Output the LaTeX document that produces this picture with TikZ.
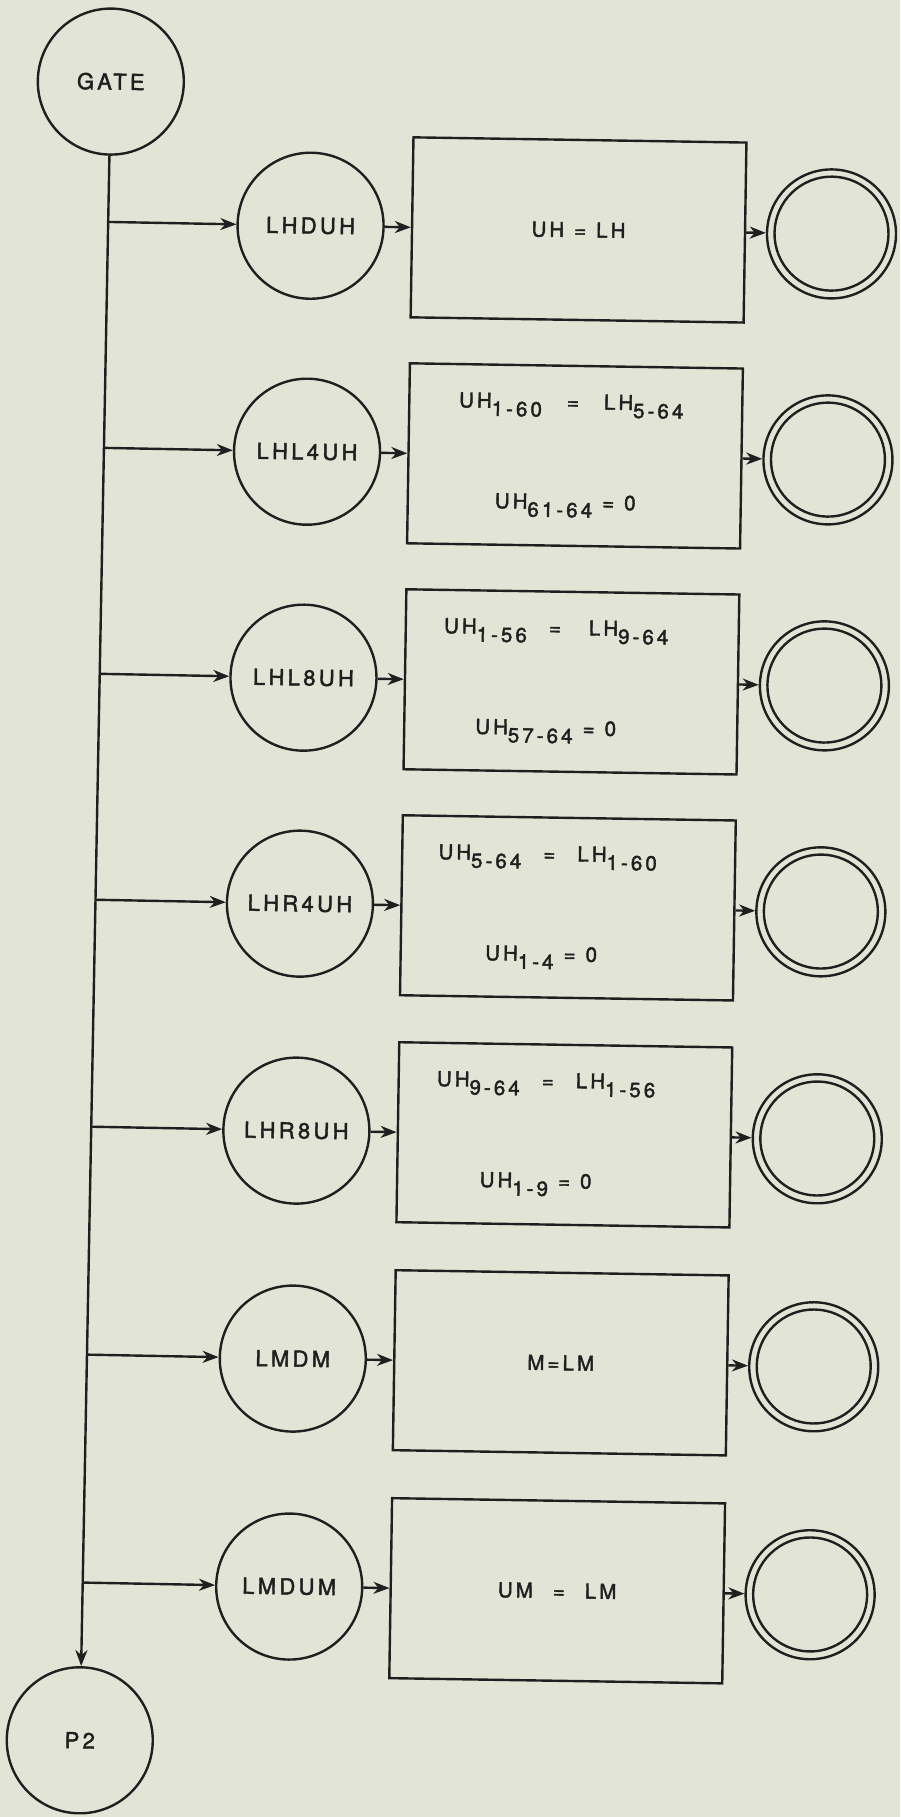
\documentclass[tikz,border=0pt]{standalone}
\usepackage{fontspec}
\setmainfont{TeX Gyre Heros}[LetterSpace=15, FakeBold=2]
\usetikzlibrary{arrows.meta,calc}
\definecolor{papel}{HTML}{E2E5D5}
\definecolor{tinta}{HTML}{1F1F1F}
\newcommand{\ind}[1]{\raisebox{-8pt}{#1}}
\newcommand{\folga}[1]{\makebox[#1]{}}

\begin{document}
\begin{tikzpicture}[x=1pt, y=-1pt, line width=2.4pt, color=tinta,
  estado/.style={circle, draw=tinta, minimum size=146pt, inner sep=0pt, font=\fontsize{22}{26}\selectfont},
  caixa/.style={draw=tinta, minimum width=333pt, minimum height=180pt, inner sep=0pt, align=center, font=\fontsize{20.5}{22}\selectfont},
  fim/.style={circle, draw=tinta, minimum size=129pt, inner sep=0pt,
    path picture={\draw[tinta, line width=2.4pt] (path picture bounding box.center) circle (57pt);}},
  seta/.style={-{Stealth[length=16pt, width=12pt, inset=5pt]}, draw=tinta}]
\fill[papel] (0,0) rectangle (900,1817);
\useasboundingbox (0,0) rectangle (900,1817);
\begin{scope}[rotate around={-0.9:(450,900)}, transform shape]
% ---- entrada e saida
\node[estado] (gate) at (98,87) {GATE};
\node[estado] (p2) at (93,1746) {P2};
% ---- estados
\node[estado] (c1) at (300,228) {LHDUH};
\node[estado] (c2) at (300,454) {LHL4UH};
\node[estado] (c3) at (300,680) {LHL8UH};
\node[estado] (c4) at (300,906) {LHR4UH};
\node[estado] (c5) at (300,1133) {LHR8UH};
\node[estado] (c6) at (300,1361) {LMDM};
\node[estado] (c7) at (300,1589) {LMDUM};
% ---- operacoes
\node[caixa, font=\fontsize{20.5}{24}\selectfont] (b1) at (568,228) {UH\hspace{10pt}=\hspace{10pt}LH};
\node[caixa] (b2) at (568,454) {UH\ind{1-60}\hspace{25pt}=\hspace{25pt}LH\ind{5-64}\folga{9pt}\\[76pt]UH\ind{61-64}\hspace{10pt}=\hspace{10pt}0\folga{18pt}};
\node[caixa] (b3) at (568,680) {UH\ind{1-56}\hspace{22pt}=\hspace{28pt}LH\ind{9-64}\folga{32pt}\\[76pt]UH\ind{57-64}\hspace{10pt}=\hspace{10pt}0\folga{50pt}};
\node[caixa] (b4) at (568,906) {UH\ind{5-64}\hspace{22pt}=\hspace{22pt}LH\ind{1-60}\folga{42pt}\\[76pt]UH\ind{1-4}\hspace{10pt}=\hspace{10pt}0\folga{52pt}};
\node[caixa] (b5) at (568,1133) {UH\ind{9-64}\hspace{22pt}=\hspace{22pt}LH\ind{1-56}\folga{38pt}\\[76pt]UH\ind{1-9}\hspace{10pt}=\hspace{10pt}0\folga{56pt}};
\node[caixa, font=\fontsize{20.5}{24}\selectfont] (b6) at (568,1361) {M=LM};
\node[caixa, font=\fontsize{20.5}{24}\selectfont] (b7) at (568,1589) {UM\hspace{20pt}=\hspace{20pt}LM};
% ---- fins
\node[fim] (d1) at (821,228) {};
\node[fim] (d2) at (821,454) {};
\node[fim] (d3) at (821,680) {};
\node[fim] (d4) at (821,906) {};
\node[fim] (d5) at (821,1133) {};
\node[fim] (d6) at (821,1361) {};
\node[fim] (d7) at (821,1589) {};
\draw[seta] (gate) -- (p2);
\draw[seta] ($(gate)!(c1)!(p2)$) -- (c1);
\draw[seta] ($(gate)!(c2)!(p2)$) -- (c2);
\draw[seta] ($(gate)!(c3)!(p2)$) -- (c3);
\draw[seta] ($(gate)!(c4)!(p2)$) -- (c4);
\draw[seta] ($(gate)!(c5)!(p2)$) -- (c5);
\draw[seta] ($(gate)!(c6)!(p2)$) -- (c6);
\draw[seta] ($(gate)!(c7)!(p2)$) -- (c7);
\draw[seta] (c1) -- (b1); \draw[seta] (b1) -- (d1);
\draw[seta] (c2) -- (b2); \draw[seta] (b2) -- (d2);
\draw[seta] (c3) -- (b3); \draw[seta] (b3) -- (d3);
\draw[seta] (c4) -- (b4); \draw[seta] (b4) -- (d4);
\draw[seta] (c5) -- (b5); \draw[seta] (b5) -- (d5);
\draw[seta] (c6) -- (b6); \draw[seta] (b6) -- (d6);
\draw[seta] (c7) -- (b7); \draw[seta] (b7) -- (d7);
\end{scope}
\end{tikzpicture}
\end{document}
